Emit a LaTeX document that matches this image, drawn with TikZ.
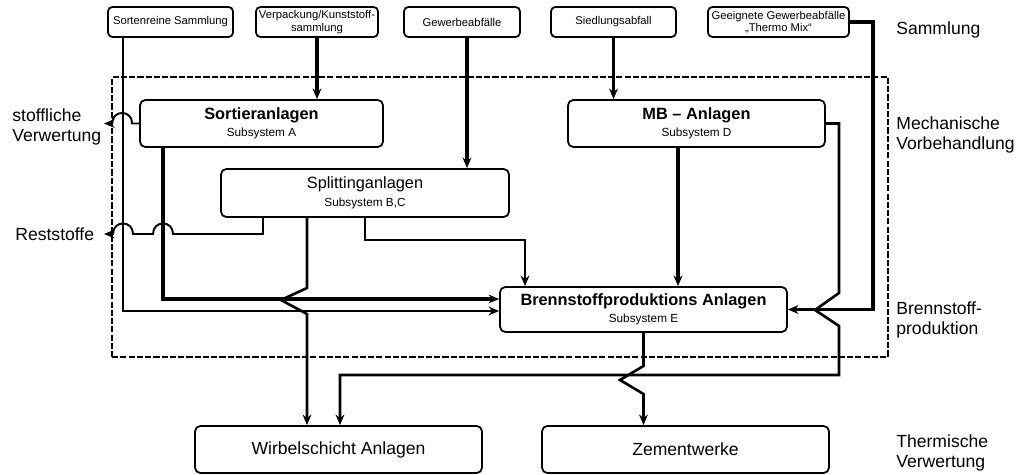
\documentclass[tikz,border=0pt]{standalone}
\usepackage{fontspec}
\setmainfont{Liberation Sans}
\usepackage{tikz}
\usetikzlibrary{arrows.meta}

\newcommand{\subsys}[1]{{\fontsize{6.7}{8}\selectfont #1}}

\begin{document}
\begin{tikzpicture}[
      x=0.02cm, y=-0.02cm, >={Stealth[length=6pt,width=5pt]},
      srcbox/.style={rectangle, draw, line width=1pt, rounded corners=2.5pt, minimum height=0.6cm, inner sep=0.5pt, align=center, font=\fontsize{6.4}{7}\selectfont},
      plantbox/.style={rectangle, draw, line width=1pt, rounded corners=3pt, minimum height=0.94cm, inner sep=2pt, align=center, font=\fontsize{9.3}{10}\selectfont},
      endbox/.style={plantbox, minimum width=5.74cm, font=\fontsize{10}{12}\selectfont},
      zone/.style={rectangle, draw, line width=1.4pt, dash pattern=on 3.5pt off 1.2pt},
      sidelabel/.style={anchor=west, align=left, inner sep=0pt, font=\fontsize{10}{11.5}\selectfont},
      flow/.style={draw, ->, line width=1.1pt},
      midflow/.style={draw, ->, line width=1.5pt},
      mainflow/.style={draw, ->, line width=2.1pt},
      hopover/.style={out=90, in=90, looseness=1.8}
    ]
      \useasboundingbox (0,0) rectangle (1030,475);

      \node (zone) [zone, minimum width=15.52cm, minimum height=5.6cm] at (500,217) {};

      \node (samm) [srcbox, minimum width=2.5cm] at (170.5,22) {Sortenreine Sammlung};
      \node (verp) [srcbox, minimum width=2.44cm] at (317,22) {Verpackung/Kunststoff-\\sammlung};
      \node (gew) [srcbox, minimum width=2.32cm] at (462,22) {Gewerbeabfälle};
      \node (sied) [srcbox, minimum width=2.5cm] at (613.5,22) {Siedlungsabfall};
      \node (thermo) [srcbox, minimum width=2.82cm] at (778.5,22) {Geeignete Gewerbeabfälle\\„Thermo Mix“};

      \node (sort) [plantbox, minimum width=4.86cm] at (261.5,123.5) {\textbf{Sortieranlagen}\\\subsys{Subsystem A}};
      \node (mb) [plantbox, minimum width=5.14cm] at (696.5,123.5) {\textbf{MB – Anlagen}\\\subsys{Subsystem D}};
      \node (split) [plantbox, minimum width=5.76cm, minimum height=0.96cm] at (365,193) {Splittinganlagen\\\subsys{Subsystem B,C}};
      \node (brenn) [plantbox, minimum width=5.74cm, minimum height=0.9cm] at (643.5,309.5) {\textbf{Brennstoffproduktions Anlagen}\\\subsys{Subsystem E}};
      \node (wirb) [endbox] at (338.5,449.5) {Wirbelschicht Anlagen};
      \node (zem) [endbox] at (685.5,449.5) {Zementwerke};

      \node (lsamm) [sidelabel] at (896,30) {Sammlung};
      \node (lmech) [sidelabel] at (896,135) {Mechanische\\Vorbehandlung};
      \node (lbrenn) [sidelabel] at (896,320) {Brennstoff-\\produktion};
      \node (ltherm) [sidelabel] at (896,453) {Thermische\\Verwertung};
      \node (lstoff) [sidelabel] at (12,127) {stoffliche\\Verwertung};
      \node (lrest) [sidelabel] at (15,234) {Reststoffe};

      \coordinate (stoffend) at (104,124);
      \coordinate (restend) at (104,234);
      \coordinate (xa) at (123,0);
      \coordinate (xb) at (163,0);
      \coordinate (xr) at (263,0);
      \coordinate (xw) at (307,0);
      \coordinate (xl) at (340,0);
      \coordinate (xg) at (467,0);
      \coordinate (x2) at (525,0);
      \coordinate (xm) at (678,0);
      \coordinate (xt) at (873,0);
      \coordinate (yhigh) at (0,299);
      \coordinate (ylow) at (0,311);
      \coordinate (ybc) at (0,240);

      \draw[mainflow] (verp.south) -- (sort.north -| verp.south);
      \draw[mainflow] (gew.south -| xg) -- (split.north -| xg);
      \draw[midflow] (sied.south) -- (mb.north -| sied.south);
      \draw[mainflow] (mb.south -| xm) -- (brenn.north -| xm);
      \draw[midflow] (split.south) -- (split.south |- ybc) -| (brenn.north -| x2);
      \draw[midflow] (samm.south -| xa) |- (brenn.west |- ylow);
      \draw[mainflow] (sort.south -| xb) |- (brenn.west |- yhigh);
      \draw[mainflow] (thermo.east) -| (brenn.east -| xt) -- (brenn.east);

      \draw[flow] (sort.west) -- ++(-7,0) to[hopover] ++(-20,0) -- (stoffend |- sort.west);
      \draw[flow] (split.south -| xr) |- (173,234) to[hopover] (153,234) -- (133,234) to[hopover] (113,234) -- (restend);

      \draw[midflow] (split.south -| xw) -- (307,288) -- (281,300) -- (307,314) -- (wirb.north -| xw);
      \draw[midflow] (mb.east) -| (839,293) -- (815,310) -- (839,326) -- (839,375) -| (wirb.north -| xl);
      \draw[midflow] (brenn.south) -- (643.5,366) -- (620,380) -- (643.5,394) -- (zem.north -| brenn.south);
    \end{tikzpicture}
\end{document}
